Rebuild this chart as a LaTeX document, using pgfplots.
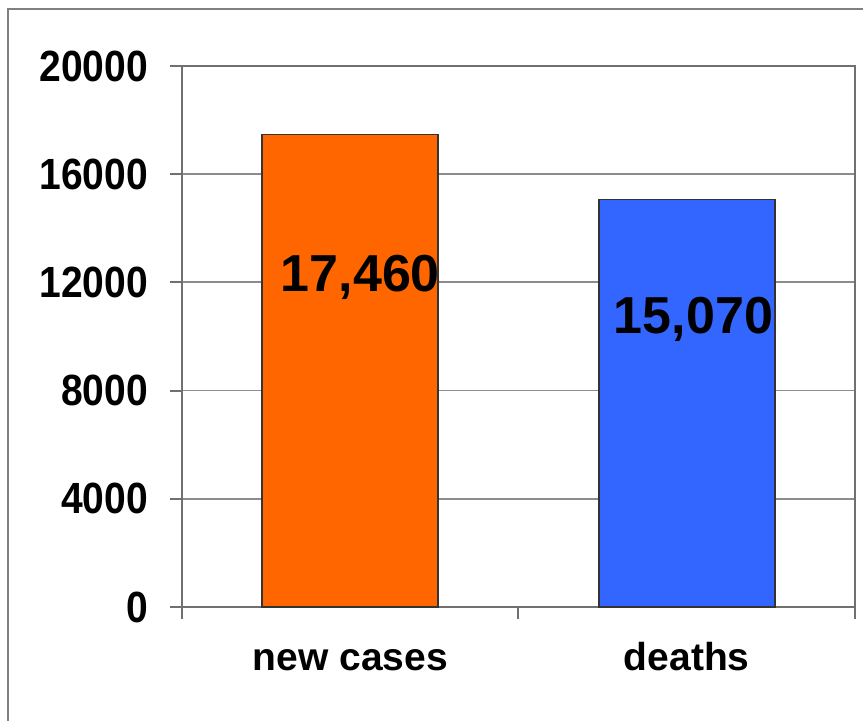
\documentclass[border=0pt]{standalone}
\usepackage{pgfplots}
\pgfplotsset{compat=1.18}
\usepackage{fontspec}
\setmainfont{Liberation Sans}
\definecolor{barorange}{HTML}{FF6600}
\definecolor{barblue}{HTML}{3366FF}
\definecolor{axisgray}{HTML}{707070}
\definecolor{gridgray}{HTML}{8C8C8C}
\definecolor{framegray}{HTML}{808080}

\begin{document}
\begin{tikzpicture}
\useasboundingbox (-91pt,-57pt) rectangle (340.5pt,303.5pt);
% outer frame (left and top edges)
\draw[framegray, line width=1pt] (-87pt,-57pt) -- (-87pt,299pt) -- (340.5pt,299pt);
\begin{axis}[
  at={(0,0)}, anchor=south west,
  scale only axis,
  width=336.5pt, height=270.5pt,
  xmin=-0.5, xmax=1.5, ymin=0, ymax=20000,
  enlargelimits=false,
  ybar, bar width=88pt, bar shift=0pt,
  axis line style={draw=axisgray, line width=1pt},
  ytick={0,4000,8000,12000,16000,20000},
  yticklabels={0,4000,8000,12000,16000,20000},
  scaled y ticks=false,
  ymajorgrids,
  grid style={draw=gridgray, line width=0.9pt},
  ytick pos=left, xtick pos=bottom,
  tick align=outside,
  major tick length=6pt,
  tick style={draw=axisgray, line width=1pt},
  yticklabel style={font=\fontsize{19.5}{22}\selectfont\bfseries, yscale=1.12, xshift=-7.5pt},
  xtick={-0.5,0.5,1.5},
  xticklabels={},
  extra x ticks={0,1},
  extra x tick labels={new cases,deaths},
  extra x tick style={major tick length=0pt,
    xticklabel style={font=\fontsize{19.5}{22}\selectfont\bfseries,
      text height=14.2pt, text depth=4pt, anchor=north, yshift=-14pt}},
  clip=false,
]
\addplot[fill=barorange, draw=black!80, line width=0.8pt] coordinates {(0,17460)};
\addplot[fill=barblue, draw=black!80, line width=0.8pt] coordinates {(1,15070)};
\node[font=\fontsize{26}{30}\selectfont\bfseries] at (axis cs:0.03,12200) {17,460};
\node[font=\fontsize{26}{30}\selectfont\bfseries] at (axis cs:1.02,10620) {15,070};
\end{axis}
\end{tikzpicture}
\end{document}
